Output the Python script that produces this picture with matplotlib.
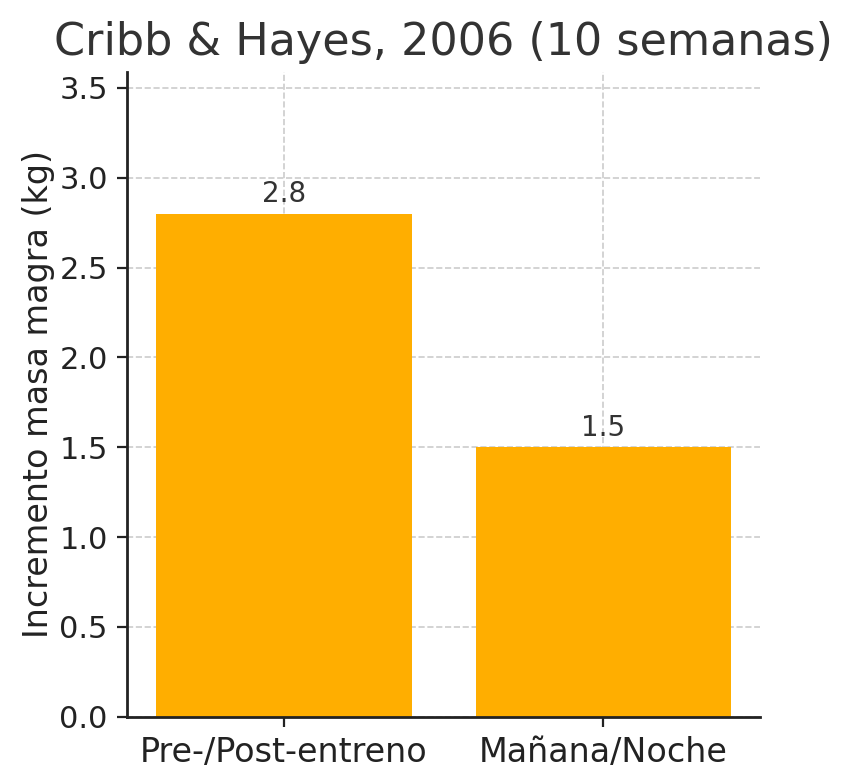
import matplotlib
matplotlib.use("Agg")
import matplotlib.pyplot as plt

categories = ["Pre-/Post-entreno", "Mañana/Noche"]
values = [2.8, 1.5]
title = "Cribb & Hayes, 2006 (10 semanas)"
ylabel = "Incremento masa magra (kg)"

fig, ax = plt.subplots(figsize=(8.53/2, 7.8/2), dpi=200)
bars = ax.bar(categories, values, width=0.8, color="#FFAE00", zorder=2)
for b, v in zip(bars, values):
    ax.text(b.get_x() + b.get_width()/2, v + 0.03, f"{v:.1f}", ha="center", va="bottom",
            fontsize=10, color="#333333")
ax.set_ylim(0, 3.59)
ax.set_yticks([0, 0.5, 1.0, 1.5, 2.0, 2.5, 3.0, 3.5])
ax.set_title(title, fontsize=16, color="#333333")
ax.set_ylabel(ylabel, fontsize=12, color="#222222", labelpad=1.5)
ax.tick_params(axis="x", labelsize=12, colors="#222222")
ax.tick_params(axis="y", labelsize=11, colors="#222222")
ax.grid(True, linestyle="--", color="#CCCCCC", linewidth=0.6, zorder=0)
ax.spines["top"].set_visible(False)
ax.spines["right"].set_visible(False)
for s in ("left", "bottom"):
    ax.spines[s].set_linewidth(1.0)
    ax.spines[s].set_color("#222222")
fig.subplots_adjust(left=0.149, right=0.891, bottom=0.081, top=0.908)
fig.savefig("out.png", dpi=200)
